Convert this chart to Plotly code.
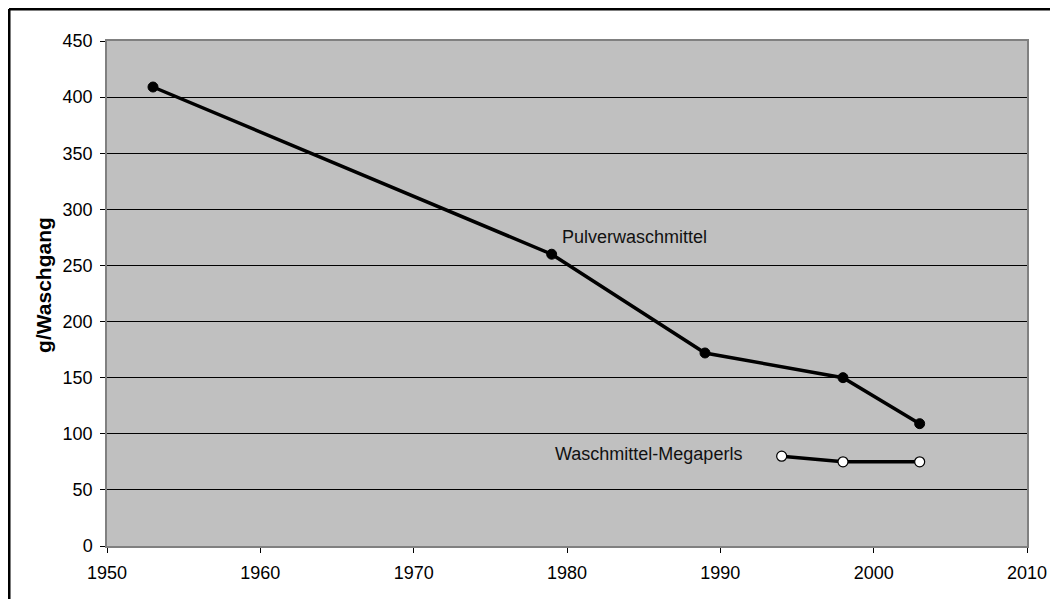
import plotly.graph_objects as go

# Pulverwaschmittel
pulver_years = [1953, 1979, 1989, 1998, 2003]
pulver_values = [409, 260, 172, 150, 109]

# Waschmittel-Megaperls
megaperls_years = [1994, 1998, 2003]
megaperls_values = [80, 75, 75]

font_family = "Liberation Sans, Arial, sans-serif"

fig = go.Figure()
fig.add_trace(go.Scatter(
    x=pulver_years, y=pulver_values, mode="lines+markers",
    name="Pulverwaschmittel",
    line=dict(color="black", width=3.5),
    marker=dict(color="black", size=10, line=dict(color="black", width=1)),
))
fig.add_trace(go.Scatter(
    x=megaperls_years, y=megaperls_values, mode="lines+markers",
    name="Waschmittel-Megaperls",
    line=dict(color="black", width=3.5),
    marker=dict(color="white", size=10, line=dict(color="black", width=1.2)),
))

# labels next to the lines
fig.add_annotation(x=1984.4, y=275.6, text="Pulverwaschmittel", showarrow=False,
                   font=dict(size=18, color="#111111", family=font_family))
fig.add_annotation(x=1985.3, y=81.7, text="Waschmittel-Megaperls", showarrow=False,
                   font=dict(size=18, color="#111111", family=font_family))

# y axis title, placed by hand (sits a bit above the middle of the axis)
fig.add_annotation(xref="paper", yref="paper", x=-0.0685, y=0.517,
                   xanchor="center", yanchor="middle",
                   text="<b>g/Waschgang</b>", textangle=-90, showarrow=False,
                   font=dict(size=21, color="black", family=font_family))

# outer frame (top and left edges visible in the picture)
fig.add_shape(type="line", xref="paper", yref="paper",
              x0=-0.1065, x1=1.05, y0=1.0634, y1=1.0634,
              line=dict(color="black", width=3))
fig.add_shape(type="line", xref="paper", yref="paper",
              x0=-0.1065, x1=-0.1065, y0=1.0634, y1=-0.12,
              line=dict(color="black", width=3))

# the page body adds 8px around the figure, so size it 8px smaller
fig.update_layout(
    width=1050, height=591,
    margin=dict(l=99, r=31, t=33, b=53),
    paper_bgcolor="white",
    plot_bgcolor="#c0c0c0",
    showlegend=False,
    font=dict(family=font_family, size=18, color="black"),
    xaxis=dict(
        range=[1950, 2010], tickmode="linear", tick0=1950, dtick=10,
        showgrid=False, zeroline=False,
        showline=True, linecolor="#808080", linewidth=1.5, mirror=True,
        ticks="outside", ticklen=5, tickcolor="black",
        tickfont=dict(size=18), ticklabelstandoff=5,
    ),
    yaxis=dict(
        range=[0, 450], tickmode="linear", tick0=0, dtick=50,
        showgrid=True, gridcolor="black", gridwidth=1, zeroline=False,
        showline=True, linecolor="#808080", linewidth=1.5, mirror=True,
        ticks="outside", ticklen=5, tickcolor="black",
        tickfont=dict(size=18), ticklabelstandoff=4,
    ),
)

fig.write_html("out.html")
